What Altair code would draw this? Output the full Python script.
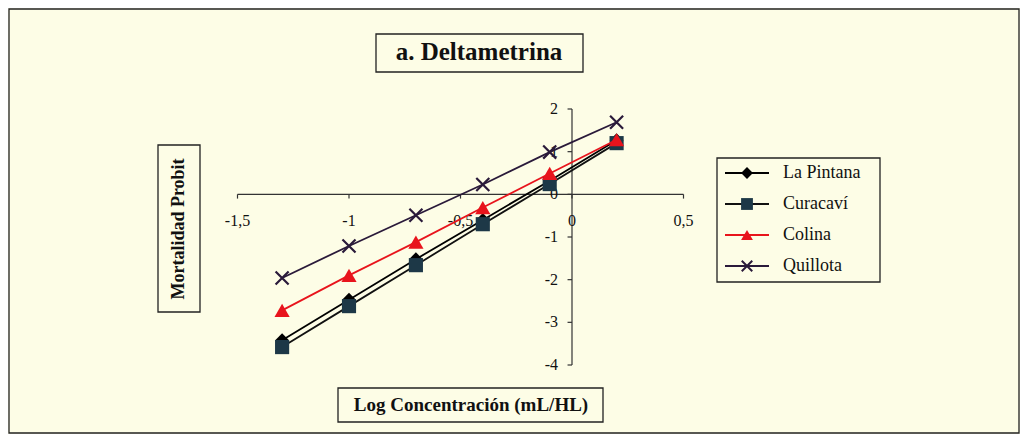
import altair as alt
import pandas as pd

# ---- data ----
series = ["La Pintana", "Curacaví", "Colina", "Quillota"]
log_conc = [-1.3, -1.0, -0.7, -0.4, -0.1, 0.2]
la_pintana = [-3.42, -2.47, -1.52, -0.60, 0.32, 1.27]
curacavi = [-3.58, -2.62, -1.66, -0.70, 0.24, 1.20]
colina = [-2.72, -1.90, -1.12, -0.31, 0.49, 1.28]
quillota = [-1.96, -1.21, -0.49, 0.23, 0.99, 1.69]

x_ticks = [-1.5, -1.0, -0.5, 0.0, 0.5]
x_tick_labels = ["-1,5", "-1", "-0,5", "0", "0,5"]
y_ticks = [2, 1, 0, -1, -2, -3, -4]
y_tick_labels = ["2", "1", "0", "-1", "-2", "-3", "-4"]

title_text = "a. Deltametrina"
x_title = "Log Concentración (mL/HL)"
y_title = "Mortalidad Probit"

# ---- styles ----
line_colors = ["#000000", "#111111", "#e8141c", "#2a1a3a"]
fill_colors = ["#000000", "#1d3847", "#e8141c", "#2a1a3a"]
shapes = ["diamond", "square", "triangle-up", "M-1,-1L1,1M-1,1L1,-1"]
sizes = [190, 200, 230, 170]
BG = "#fdfde6"
FONT = "'Liberation Serif', 'Times New Roman', serif"
AX = "#333333"

values = [la_pintana, curacavi, colina, quillota]
df = pd.DataFrame(
    [{"series": s, "x": x, "y": y} for s, vals in zip(series, values) for x, y in zip(log_conc, vals)]
)

xs = alt.Scale(domain=[-1.5, 0.5], range=[229.5, 675.5], nice=False, zero=False)
ys = alt.Scale(domain=[-4, 2], range=[357, 101], nice=False, zero=False)
stroke_scale = alt.Scale(domain=series, range=line_colors)
fill_scale = alt.Scale(domain=series, range=fill_colors)
shape_scale = alt.Scale(domain=series, range=shapes)

one = pd.DataFrame({"a": [0]})


def box(x1, x2, y1, y2):
    return alt.Chart(one).mark_rect(fill=BG, stroke="#222222", strokeWidth=1.3).encode(
        x=alt.value(x1), x2=alt.value(x2), y=alt.value(y1), y2=alt.value(y2)
    )


layers = []
# outer frame
layers.append(box(1, 1011, 1, 425))

# axes
xt = pd.DataFrame({"v": x_ticks, "lab": x_tick_labels})
yt = pd.DataFrame({"v": y_ticks, "lab": y_tick_labels})
rng = pd.DataFrame({"x0": [x_ticks[0]], "x1": [x_ticks[-1]], "y0": [min(y_ticks)], "y1": [max(y_ticks)]})

layers.append(alt.Chart(rng).mark_rule(color=AX, strokeWidth=1.2).encode(
    x=alt.X("x0:Q", scale=xs, axis=None), x2="x1:Q",
    y=alt.Y(datum=0, scale=ys, axis=None)))
layers.append(alt.Chart(rng).mark_rule(color=AX, strokeWidth=1.2).encode(
    y=alt.Y("y0:Q", scale=ys, axis=None), y2="y1:Q",
    x=alt.X(datum=0, scale=xs, axis=None)))
layers.append(alt.Chart(xt).mark_rule(color=AX, strokeWidth=1.2).encode(
    x=alt.X("v:Q", scale=xs, axis=None),
    y=alt.Y(datum=0, scale=ys, axis=None), y2=alt.Y2(datum=-0.1)))
layers.append(alt.Chart(yt).mark_rule(color=AX, strokeWidth=1.2).encode(
    y=alt.Y("v:Q", scale=ys, axis=None),
    x=alt.X(datum=0, scale=xs, axis=None), x2=alt.X2(datum=-0.02)))
layers.append(alt.Chart(xt).mark_text(font=FONT, fontSize=16, color="#111111", baseline="middle", dy=27).encode(
    x=alt.X("v:Q", scale=xs, axis=None), y=alt.Y(datum=0, scale=ys, axis=None), text="lab:N"))
layers.append(alt.Chart(yt).mark_text(font=FONT, fontSize=16, color="#111111", baseline="middle", align="right", dx=-14).encode(
    y=alt.Y("v:Q", scale=ys, axis=None), x=alt.X(datum=0, scale=xs, axis=None), text="lab:N"))

# series: line + markers, drawn in order
for s, sz in zip(series, sizes):
    sub = alt.Chart(df).transform_filter(alt.datum.series == s)
    layers.append(sub.mark_line(strokeWidth=1.8).encode(
        x=alt.X("x:Q", scale=xs, axis=None), y=alt.Y("y:Q", scale=ys, axis=None),
        stroke=alt.Stroke("series:N", scale=stroke_scale, legend=None)))
    if s == "Quillota":
        layers.append(sub.mark_point(filled=False, strokeWidth=2.2, size=sz, opacity=1).encode(
            x=alt.X("x:Q", scale=xs, axis=None), y=alt.Y("y:Q", scale=ys, axis=None),
            stroke=alt.Stroke("series:N", scale=stroke_scale, legend=None),
            shape=alt.Shape("series:N", scale=shape_scale, legend=None)))
    else:
        layers.append(sub.mark_point(filled=True, size=sz, opacity=1).encode(
            x=alt.X("x:Q", scale=xs, axis=None), y=alt.Y("y:Q", scale=ys, axis=None),
            fill=alt.Fill("series:N", scale=fill_scale, legend=None),
            shape=alt.Shape("series:N", scale=shape_scale, legend=None)))

# title box
layers.append(box(368, 575, 26, 64))
layers.append(alt.Chart(pd.DataFrame({"t": [title_text]})).mark_text(
    font=FONT, fontSize=25, fontWeight="bold", color="#111111", align="center", baseline="middle").encode(
    x=alt.value(471), y=alt.value(44), text="t:N"))

# y title box
layers.append(box(150, 192, 137, 304))
layers.append(alt.Chart(pd.DataFrame({"t": [y_title]})).mark_text(
    font=FONT, fontSize=18, fontWeight="bold", color="#111111", align="center", baseline="middle", angle=270).encode(
    x=alt.value(171), y=alt.value(221), text="t:N"))

# x title box
layers.append(box(330, 595, 380, 414))
layers.append(alt.Chart(pd.DataFrame({"t": [x_title]})).mark_text(
    font=FONT, fontSize=19, fontWeight="bold", color="#111111", align="center", baseline="middle").encode(
    x=alt.value(463), y=alt.value(397), text="t:N"))

# legend
leg = pd.DataFrame({"series": series, "i": list(range(len(series)))})
ly = alt.Scale(domain=[0, len(series) - 1], range=[165, 258])
layers.append(box(709, 872, 150, 274))
layers.append(alt.Chart(leg).mark_rule(strokeWidth=1.8).encode(
    x=alt.value(717), x2=alt.value(761), y=alt.Y("i:Q", scale=ly, axis=None),
    stroke=alt.Stroke("series:N", scale=stroke_scale, legend=None)))
layers.append(alt.Chart(leg).transform_filter(alt.datum.series != "Quillota").mark_point(
    filled=True, size=140, opacity=1).encode(
    x=alt.value(739), y=alt.Y("i:Q", scale=ly, axis=None),
    fill=alt.Fill("series:N", scale=fill_scale, legend=None),
    shape=alt.Shape("series:N", scale=shape_scale, legend=None)))
layers.append(alt.Chart(leg).transform_filter(alt.datum.series == "Quillota").mark_point(
    filled=False, strokeWidth=2, size=110, opacity=1).encode(
    x=alt.value(739), y=alt.Y("i:Q", scale=ly, axis=None),
    stroke=alt.Stroke("series:N", scale=stroke_scale, legend=None),
    shape=alt.Shape("series:N", scale=shape_scale, legend=None)))
layers.append(alt.Chart(leg).mark_text(
    font=FONT, fontSize=18, color="#111111", align="left", baseline="middle").encode(
    x=alt.value(775), y=alt.Y("i:Q", scale=ly, axis=None), text="series:N"))

chart = alt.layer(*layers).resolve_scale(x="independent", y="independent").properties(
    width=1012, height=426, background=BG, padding=0,
    autosize=alt.AutoSizeParams(type="none"),
).configure_view(stroke=None)

chart.save("out.html", embed_options={"renderer": "svg", "actions": False})
